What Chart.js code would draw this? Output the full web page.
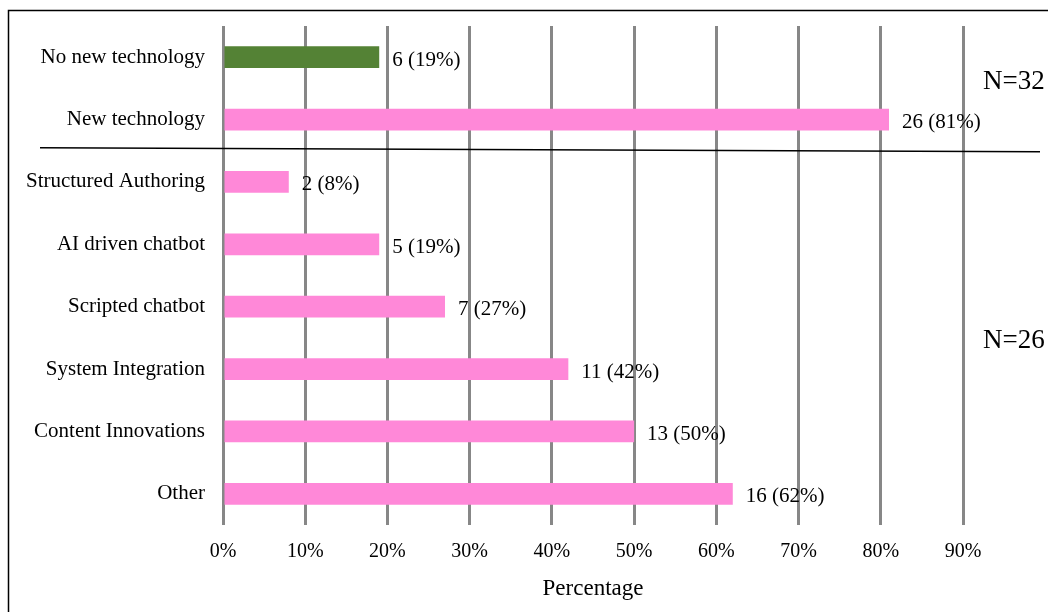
<!DOCTYPE html>
<html>
<head>
<meta charset="utf-8">
<style>
  html, body { margin: 0; padding: 0; background: #ffffff; }
  #wrap { position: relative; width: 1048px; height: 612px; }
</style>
<script src="https://cdn.jsdelivr.net/npm/chart.js@4/dist/chart.umd.min.js"></script>
</head>
<body>
<div id="wrap"><canvas id="chart" width="1048" height="612"></canvas></div>
<script>
// Survey responses: technology adoption, then breakdown among adopters
const categories = [
  'No new technology',
  'New technology',
  'Structured Authoring',
  'AI driven chatbot',
  'Scripted chatbot',
  'System Integration',
  'Content Innovations',
  'Other'
];
const counts = [6, 26, 2, 5, 7, 11, 13, 16];
const percents = [19, 81, 8, 19, 27, 42, 50, 62];
const xTicks = [0, 10, 20, 30, 40, 50, 60, 70, 80, 90];
const groupLabels = ['N=32', 'N=26'];
// index ranges of the two respondent groups
const groupRanges = [[0, 1], [2, 7]];

const GREEN = '#548235';
const PINK = '#FF88D8';
const FONT = '"Liberation Serif", "Times New Roman", serif';

const barColors = categories.map((c, i) => i === 0 ? GREEN : PINK);

// value labels "count (pct%)" to the right of each bar
const valueLabels = {
  id: 'valueLabels',
  afterDatasetsDraw(chart) {
    const { ctx } = chart;
    const meta = chart.getDatasetMeta(0);
    ctx.save();
    ctx.font = '21px ' + FONT;
    ctx.fillStyle = '#000';
    ctx.textAlign = 'left';
    ctx.textBaseline = 'middle';
    meta.data.forEach((bar, i) => {
      ctx.fillText(counts[i] + ' (' + percents[i] + '%)', bar.x + 13, bar.y + 3);
    });
    ctx.restore();
  }
};

// group separator, group sizes and outer frame
const annotations = {
  id: 'annotations',
  afterDraw(chart) {
    const { ctx } = chart;
    const y = chart.scales.y;
    ctx.save();
    // separator between the two groups
    const sepY = y.getPixelForValue(1.5);
    ctx.strokeStyle = '#000';
    ctx.lineWidth = 1.5;
    ctx.beginPath();
    ctx.moveTo(40, sepY - 3);
    ctx.lineTo(1040, sepY + 1);
    ctx.stroke();
    // group sizes
    ctx.font = '27px ' + FONT;
    ctx.fillStyle = '#000';
    ctx.textAlign = 'left';
    ctx.textBaseline = 'middle';
    const y0 = (y.getPixelForValue(groupRanges[0][0]) + y.getPixelForValue(groupRanges[0][1])) / 2;
    const y1 = (y.getPixelForValue(groupRanges[1][0]) + y.getPixelForValue(groupRanges[1][1])) / 2;
    ctx.fillText(groupLabels[0], 983, y0 - 6);
    ctx.fillText(groupLabels[1], 983, y1 + 3);
    // frame
    ctx.lineWidth = 1.5;
    ctx.beginPath();
    ctx.moveTo(8.5, 615);
    ctx.lineTo(8.5, 10.5);
    ctx.lineTo(1050, 10.5);
    ctx.stroke();
    ctx.restore();
  }
};

new Chart(document.getElementById('chart'), {
  type: 'bar',
  data: {
    labels: categories,
    datasets: [{
      data: percents,
      backgroundColor: barColors,
      borderWidth: 0,
      barPercentage: 0.7,
      categoryPercentage: 0.5
    }]
  },
  options: {
    indexAxis: 'y',
    responsive: false,
    animation: false,
    layout: { padding: { top: 26, right: 85, left: 0, bottom: 0 } },
    plugins: {
      legend: { display: false },
      tooltip: { enabled: false }
    },
    scales: {
      x: {
        min: 0,
        max: 90,
        afterBuildTicks(scale) {
          scale.ticks = xTicks.map(v => ({ value: v }));
        },
        afterFit(scale) { scale.height = 87; },
        grid: { color: '#878787', lineWidth: 3, drawTicks: false },
        border: { display: false },
        ticks: {
          padding: 15,
          color: '#000',
          font: { family: FONT, size: 20 },
          callback: v => v + '%'
        },
        title: {
          display: true,
          text: 'Percentage',
          color: '#000',
          font: { family: FONT, size: 23 },
          padding: { top: 0, bottom: 9 }
        }
      },
      y: {
        afterFit(scale) {
          scale.width = 223;
          scale.paddingTop = 0;
          scale.paddingBottom = 0;
        },
        grid: { display: false, drawTicks: false },
        border: { display: false },
        ticks: {
          padding: 18,
          color: '#000',
          font: { family: FONT, size: 21 }
        }
      }
    }
  },
  plugins: [valueLabels, annotations]
});
</script>
</body>
</html>
